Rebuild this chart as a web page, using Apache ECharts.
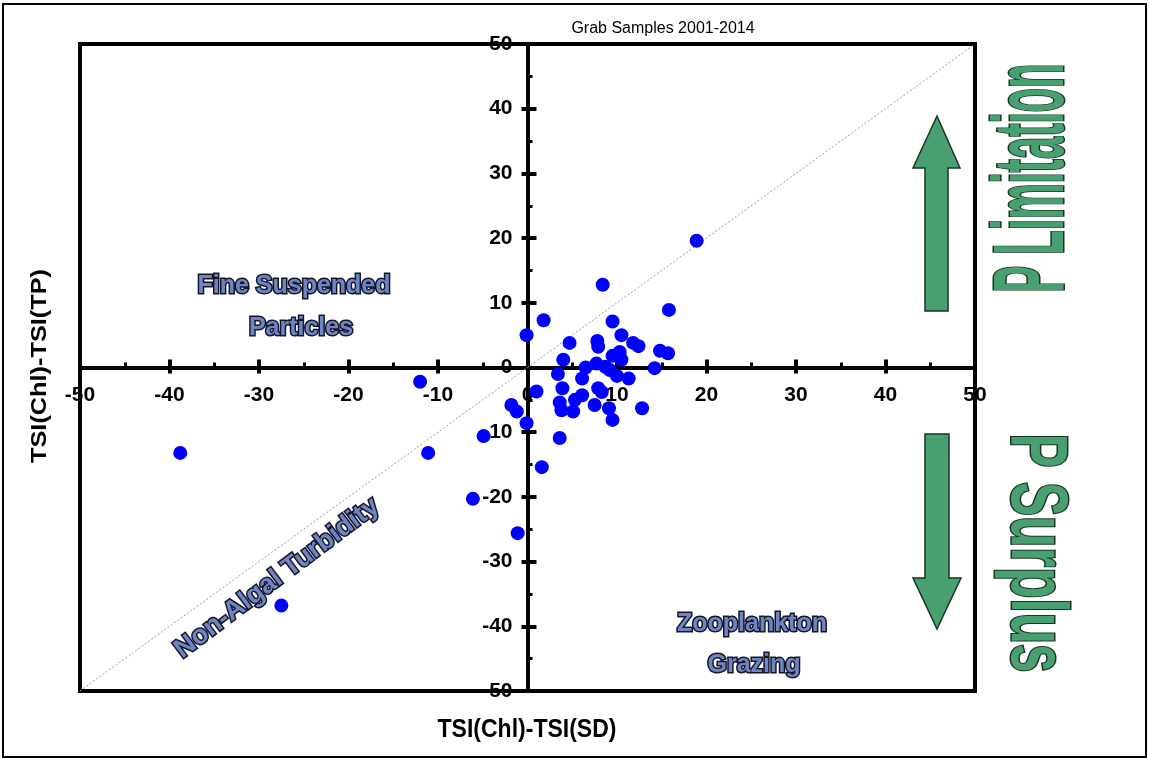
<!DOCTYPE html>
<html>
<head>
<meta charset="utf-8">
<script src="https://cdn.jsdelivr.net/npm/echarts@6/dist/echarts.min.js"></script>
<style>html,body{margin:0;padding:0;background:#fff;}#c{width:1149px;height:761px;}</style>
</head>
<body>
<div id="c"></div>
<script>
// Data
const xValues = [18.9, 8.4, 15.8, 1.8, 9.5, -0.1, 4.7, 7.8, 7.9, 10.5, 11.8, 12.4, 14.8, 15.7, 9.5, 10.3, 10.5, 4.0, 6.5, 7.7, 8.7, 9.2, 14.2, 3.4, 6.1, 10.0, 11.3, 1.0, 3.9, 7.9, 8.3, 6.1, 5.3, 3.6, 3.8, 5.1, 7.5, 9.1, 12.8, 9.5, -1.8, -1.2, -0.1, 3.6, -4.9, 1.6, -11.1, -38.8, -12.0, -6.1, -1.1, -27.5];
const yValues = [19.6, 12.8, 8.9, 7.3, 7.1, 5.0, 3.8, 4.1, 3.2, 5.0, 3.8, 3.3, 2.6, 2.2, 1.8, 2.4, 1.2, 1.2, 0.0, 0.6, 0.1, -0.4, -0.1, -1.0, -1.7, -1.3, -1.7, -3.7, -3.2, -3.2, -3.8, -4.3, -5.0, -5.4, -6.6, -6.8, -5.8, -6.3, -6.3, -8.1, -5.8, -6.8, -8.6, -10.9, -10.6, -15.4, -13.2, -13.2, -2.2, -20.3, -25.6, -36.8];
const axisMin = -50, axisMax = 50, axisStep = 10;
const refLine = [[-50, -50], [50, 50]];
const titleText = 'Grab Samples 2001-2014';
const xName = 'TSI(Chl)-TSI(SD)';
const yName = 'TSI(Chl)-TSI(TP)';

const points = xValues.map((x, i) => [x, yValues[i]]);
const FONT = '"Liberation Sans", Arial, sans-serif';
const labelFont = { fontFamily: FONT, fontWeight: 'bold', fontSize: 21, color: '#000' };
const annoStyle = (txt, size) => ({
  text: txt, fill: '#6d85c4', stroke: '#161628', lineWidth: 3, strokeFirst: true,
  font: 'bold ' + size + 'px ' + FONT,
  textAlign: 'center', textVerticalAlign: 'middle'
});
const bigStyle = (txt, size) => ({
  text: txt, fill: '#48a070', stroke: '#1a3326', lineWidth: 3, strokeFirst: true,
  font: 'bold ' + size + 'px ' + FONT,
  textAlign: 'center', textVerticalAlign: 'middle'
});

function baseAxis(pos, showLabel, tickLen, minor, margin) {
  return {
    type: 'value', min: axisMin, max: axisMax, interval: axisStep, position: pos, offset: 0,
    axisLine: { show: true, onZero: false, lineStyle: { color: '#000', width: 4 } },
    axisTick: { show: true, inside: false, length: tickLen, lineStyle: { color: '#000', width: 4 } },
    minorTick: { show: minor, splitNumber: 2, length: 5, lineStyle: { color: '#000', width: 3 } },
    splitLine: { show: false },
    axisLabel: Object.assign({ show: showLabel, margin: margin, showMinLabel: true, showMaxLabel: true, hideOverlap: false }, labelFont)
  };
}

const chart = echarts.init(document.getElementById('c'), null, { renderer: 'canvas' });
chart.setOption({
  animation: false,
  backgroundColor: '#fff',
  title: { text: titleText, left: 658, top: 16, textAlign: 'center',
    textStyle: { fontFamily: FONT, fontWeight: 'normal', fontSize: 16, color: '#000' } },
  grid: { left: 80, right: 174, top: 44, bottom: 70, show: true, borderColor: '#000', borderWidth: 4, backgroundColor: 'transparent' },
  xAxis: [baseAxis('bottom', true, 6, false, 17), baseAxis('top', false, 8, true, 8)],
  yAxis: [baseAxis('left', true, 6, false, 15), baseAxis('right', false, 9, true, 8)],
  series: [
    { type: 'line', data: refLine, symbol: 'none', silent: true, z: 1,
      lineStyle: { color: '#9a9a9a', width: 1, type: [2, 2] } },
    { type: 'scatter', data: points, symbolSize: 14, z: 5,
      itemStyle: { color: '#0000ff', opacity: 1 } }
  ],
  graphic: [
    { type: 'rect', shape: { x: 3, y: 4, width: 1143, height: 753 }, style: { fill: 'none', stroke: '#000', lineWidth: 2 }, z: -1 },
    { type: 'text', x: 527, y: 730, scaleY: 1.1, style: { text: xName, font: 'bold 23px ' + FONT, fill: '#000', textAlign: 'center', textVerticalAlign: 'middle' } },
    { type: 'text', x: 40, y: 366, rotation: Math.PI / 2, scaleX: 1.15, style: { text: yName, font: 'bold 22px ' + FONT, fill: '#000', textAlign: 'center', textVerticalAlign: 'middle' } },
    { type: 'text', x: 294, y: 286, style: annoStyle('Fine Suspended', 25) },
    { type: 'text', x: 301, y: 328, style: annoStyle('Particles', 25) },
    { type: 'text', x: 752, y: 624, style: annoStyle('Zooplankton', 25) },
    { type: 'text', x: 754, y: 665, style: annoStyle('Grazing', 25) },
    { type: 'text', x: 277, y: 578, rotation: 37 * Math.PI / 180, style: annoStyle('Non-Algal Turbidity', 27) },
    { type: 'polygon', shape: { points: [[937, 116], [960, 168], [948, 168], [948, 311], [925, 311], [925, 168], [913, 168]] },
      style: { fill: '#48a070', stroke: '#1a3326', lineWidth: 1.5 } },
    { type: 'polygon', shape: { points: [[925, 434], [949, 434], [949, 578], [961, 578], [937, 629], [913, 578], [925, 578]] },
      style: { fill: '#48a070', stroke: '#1a3326', lineWidth: 1.5 } },
    { type: 'text', x: 1035, y: 178, rotation: Math.PI / 2, scaleX: 0.4, scaleY: 1, style: bigStyle('P Limitation', 100) },
    { type: 'text', x: 1034, y: 553, rotation: -Math.PI / 2, scaleX: 0.64, scaleY: 1, style: bigStyle('P Surplus', 80) }
  ]
});

// Move the axes so that they cross at the data origin (0, 0)
const origin = chart.convertToPixel({ xAxisIndex: 0, yAxisIndex: 0 }, [0, 0]);
const corner = chart.convertToPixel({ xAxisIndex: 0, yAxisIndex: 0 }, [axisMin, axisMin]);
const corner2 = chart.convertToPixel({ xAxisIndex: 0, yAxisIndex: 0 }, [axisMax, axisMax]);
chart.setOption({
  xAxis: [{ offset: origin[1] - corner[1] }, { offset: corner2[1] - origin[1] }],
  yAxis: [{ offset: corner[0] - origin[0] }, { offset: origin[0] - corner2[0] }]
});
</script>
</body>
</html>
